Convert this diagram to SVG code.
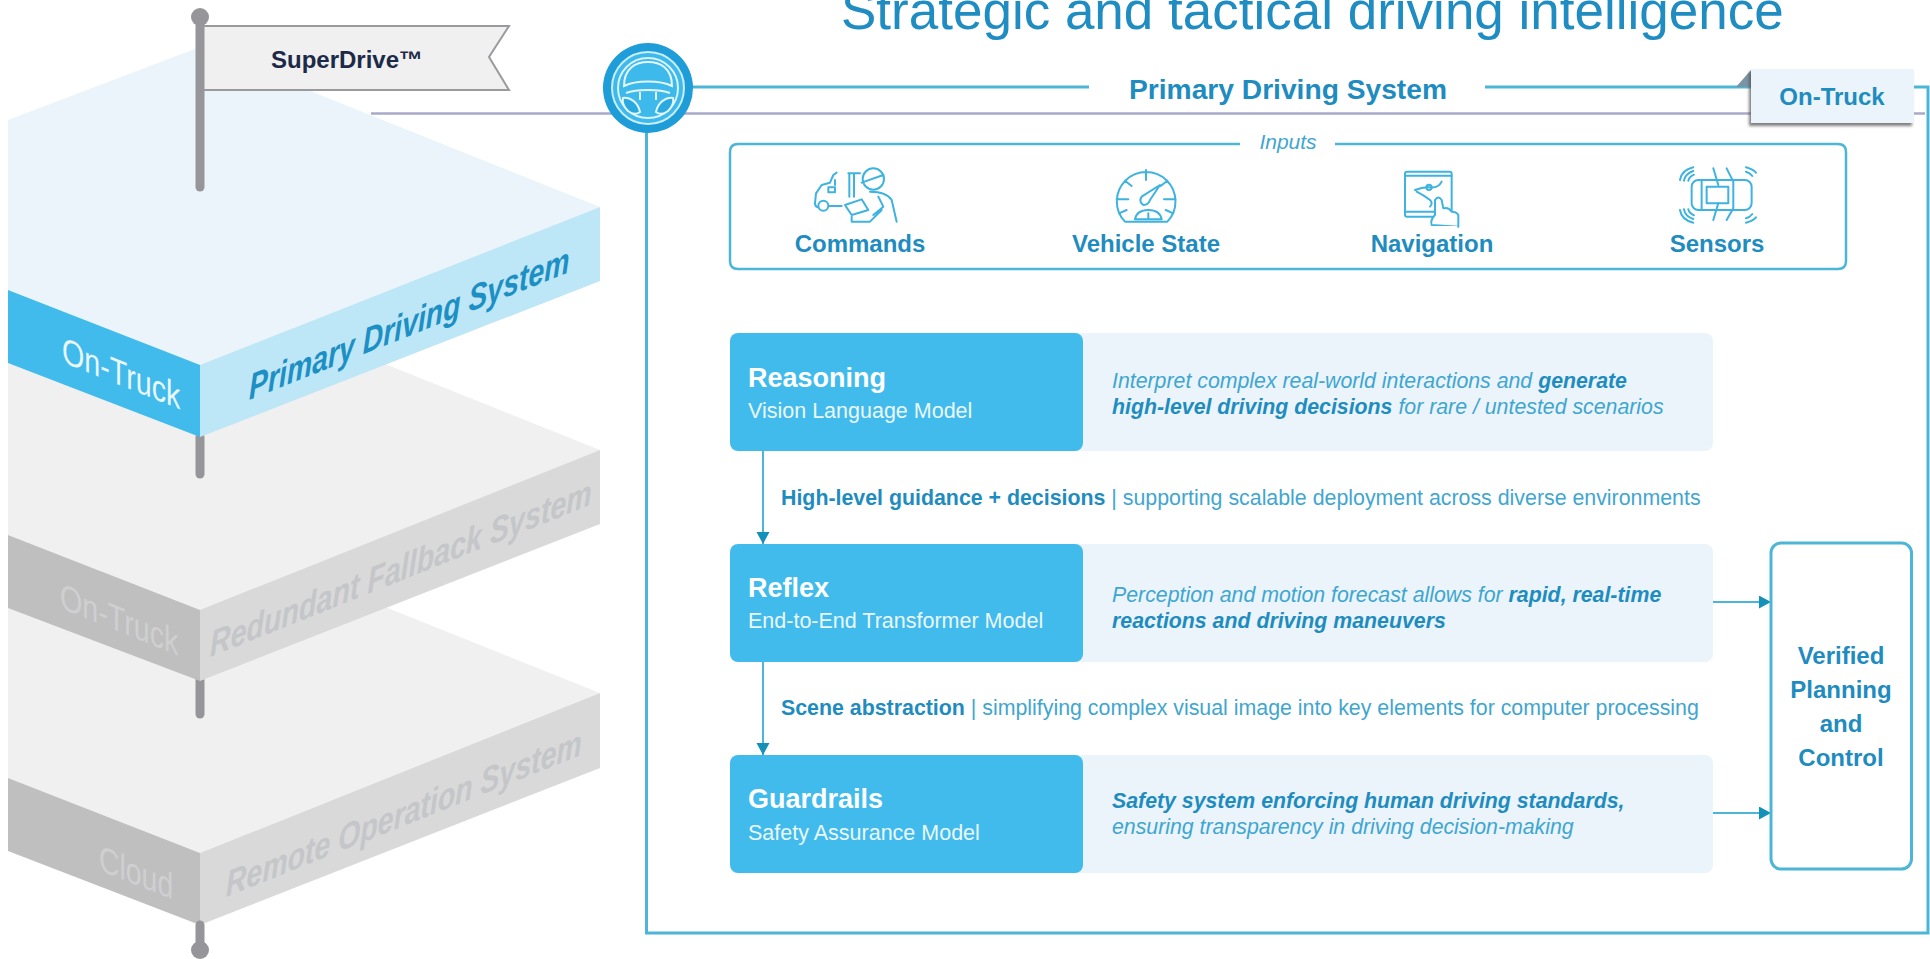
<svg xmlns="http://www.w3.org/2000/svg" width="1930" height="959" viewBox="0 0 1930 959">
<defs>
<marker id="ah" markerUnits="userSpaceOnUse" markerWidth="14" markerHeight="14" refX="12" refY="6.5" orient="auto"><path d="M0 0L12 6.5L0 13Z" fill="#1391b8"/></marker>
<filter id="sh" x="-10%" y="-20%" width="120%" height="150%"><feDropShadow dx="-2" dy="3" stdDeviation="1.6" flood-color="#555" flood-opacity=".75"/></filter>
<style>
text{font-family:"Liberation Sans",Arial,sans-serif}
.b{font-weight:700}.i{font-style:italic}
.ln{fill:none;stroke:#4db6d6;stroke-width:3}
.cn{fill:none;stroke:#4db6d6;stroke-width:2}
.pole{stroke:#95959a;stroke-width:9;stroke-linecap:round}
.ic{fill:none;stroke:#3eb3df;stroke-width:6;stroke-linecap:round;stroke-linejoin:round}
.lbl{font-size:24px;font-weight:700;fill:#1f8cbf;text-anchor:middle}
.hd{font-size:27px;font-weight:700;fill:#fff}
.sb{font-size:21.5px;fill:#eaf7fd}
.ds{font-size:21.3px;font-style:italic;fill:#3fa6d0}
.ds tspan.s{font-weight:700;fill:#1f8cbf}
.md{font-size:21.35px;fill:#3fa6d0}
.md tspan{font-weight:700;fill:#1f8cbf}
.blue{fill:#41bbec}.pale{fill:#eaf4fa}
.gs{font-size:28px;font-weight:700;font-style:italic;fill:#c5c6c9}
.gl{font-size:28px;fill:#cfcfd1}
.vp{font-size:24px;font-weight:700;fill:#1f8cbf;text-anchor:middle}
</style>
</defs>
<rect width="1930" height="959" fill="#fff"/>

<g id="layer-remote">
<polygon points="8,606 200,533 600,693 200,853 8,778" fill="#f0f0f0"/>
<polygon points="8,778 200,853 200,925 8,851" fill="#bfbfbf"/>
<polygon points="200,853 600,693 600,768 200,925" fill="#d9d9d9"/>
<text class="gl" transform="matrix(1.015 .406 0 1.3 99 870)">Cloud</text>
<text class="gs" transform="matrix(1.017 -.407 0 1.3 226 897)">Remote Operation System</text>
<line class="pole" x1="200" y1="925" x2="200" y2="945"/><circle cx="200" cy="950" r="9" fill="#95959a"/>
</g>
<g id="layer-fallback">
<line class="pole" x1="200" y1="680" x2="200" y2="714"/>
<polygon points="8,363 200,290 600,450 200,610 8,535" fill="#f0f0f0"/>
<polygon points="8,535 200,610 200,681 8,608" fill="#bfbfbf"/>
<polygon points="200,610 600,450 600,524 200,681" fill="#d9d9d9"/>
<text class="gl" transform="matrix(1.025 .41 0 1.3 60 608)">On-Truck</text>
<text class="gs" transform="matrix(1.023 -.409 0 1.3 210 657)">Redundant Fallback System</text>
</g>
<g id="layer-primary">
<line class="pole" x1="200" y1="437" x2="200" y2="474"/>
<polygon points="8,120 200,47 600,207 200,365 8,290" fill="#eaf4fa"/>
<polygon points="8,290 200,365 200,437 8,363" fill="#41bbec"/>
<polygon points="200,365 600,207 600,281 200,437" fill="#bde6f6"/>
<text transform="matrix(1.025 .41 0 1.3 62 362)" font-size="28" fill="#eaf7fd">On-Truck</text>
<text transform="matrix(1.015 -.406 0 1.3 249 400)" font-size="28" font-weight="700" font-style="italic" fill="#1c8fc4">Primary Driving System</text>
</g>
<g id="flag">
<polygon points="200,26 509,26 489,57 509,90 200,90" fill="#f0f0f0" stroke="#9a9a9e" stroke-width="2"/>
<line class="pole" x1="200" y1="20" x2="200" y2="187"/><circle cx="200" cy="17" r="9" fill="#95959a"/>
<text x="271" y="68" font-size="24" font-weight="700" fill="#1c2a48">SuperDrive™</text>
</g>

<text id="title" x="841" y="29" font-size="53" fill="#1f8cc2">Strategic and tactical driving intelligence</text>

<g id="panel">
<line x1="371" y1="113.500" x2="1925" y2="113.500" stroke="#a9a9c9" stroke-width="2.500"/>
<path class="ln" d="M648 87H1089M1485 87H1928V933H646.500V120"/>
<text x="1288" y="99" font-size="28.200" font-weight="700" fill="#1f8cbf" text-anchor="middle">Primary Driving System</text>
</g>
<g id="wheel">
<circle cx="648" cy="88" r="45" fill="#1e9dd8"/>
<circle cx="648" cy="88" r="36" fill="#3db9ec" stroke="#c9eefb" stroke-width="2"/>
<circle cx="648" cy="88" r="30" fill="#3db9ec" stroke="#d9f3fc" stroke-width="2"/>
<path d="M624 86C624 68 636 62 648 62C660 62 672 68 672 86C660 80 636 80 624 86Z" fill="#3db9ec" stroke="#e3f6fd" stroke-width="2"/>
<path d="M626 93C636 89 660 89 670 93M640 92V100M656 92V100" fill="none" stroke="#e3f6fd" stroke-width="2"/>
<path d="M623 98C630 97 638 102 640 112C636 115 632 114 628 111C624 107 622 102 623 98Z" fill="#2aa9e0" stroke="#e3f6fd" stroke-width="2"/>
<path d="M673 98C666 97 658 102 656 112C660 115 664 114 668 111C672 107 674 102 673 98Z" fill="#2aa9e0" stroke="#e3f6fd" stroke-width="2"/>
</g>
<g id="tag-on-truck">
<polygon points="1751,70 1736,87 1751,87" fill="#7a94a4"/>
<rect x="1751" y="69" width="163" height="54" fill="#eaf4fa" filter="url(#sh)"/>
<text x="1832" y="105" font-size="24" font-weight="700" fill="#1f8cbf" text-anchor="middle">On-Truck</text>
</g>

<g id="inputs">
<path d="M1240 144H738Q730 144 730 152V261Q730 269 738 269H1838Q1846 269 1846 261V152Q1846 144 1838 144H1335" fill="none" stroke="#4db6d6" stroke-width="2.500"/>
<text x="1288" y="149" font-size="21" font-style="italic" fill="#3fa6d0" text-anchor="middle">Inputs</text>
</g>
<g id="input-commands">
<g transform="translate(780 160) scale(.3333)">
<path class="ic" d="M170 38L160 45L150 68L125 75L108 100L105 130Q105 140 113 142M148 138H185M205 40H240M208 40V110M222 40V110M165 60V75"/>
<rect class="ic" x="145" y="82" width="20" height="15"/>
<circle class="ic" cx="130" cy="137" r="15"/>
<circle class="ic" cx="280" cy="57" r="32"/>
<path class="ic" d="M245 68L310 45M270 95Q320 95 335 120L350 185M295 110L310 140L280 165M215 170V185H270L305 150"/>
<path class="ic" d="M195 135L245 118L265 150L215 165Z"/>
</g>
<text class="lbl" x="860" y="252">Commands</text>
</g>
<g id="input-vehicle-state">
<g transform="translate(1080 160) scale(.3333)">
<path class="ic" d="M135 185A88 88 0 1 1 262 185ZM198 30V60M110 118H145M252 118H287M135 62L155 78M262 62L242 78M117 160L140 150M280 160L257 150M165 178Q170 150 205 150Q240 150 245 178ZM205 160V176"/>
<path class="ic" d="M240 75L185 110Q175 125 190 135Q205 135 210 120Z"/>
</g>
<text class="lbl" x="1146" y="252">Vehicle State</text>
</g>
<g id="input-navigation">
<g transform="translate(1380 160) scale(.3333)">
<rect class="ic" x="75" y="35" width="140" height="135" rx="6"/>
<path class="ic" d="M75 47H215M75 155H215M105 90Q130 80 150 82Q175 85 185 65M110 95Q130 105 150 120Q160 130 150 140"/>
<circle class="ic" cx="147" cy="82" r="8"/>
<path class="ic" style="fill:#fff" d="M155 195Q150 180 165 165V120Q175 105 185 120L190 145Q205 140 215 155Q230 155 235 165V200Z"/>
<path d="M158 202H232" stroke="#fff" stroke-width="8"/>
</g>
<text class="lbl" x="1432" y="252">Navigation</text>
</g>
<g id="input-sensors">
<g transform="translate(1380 160) scale(.3333)">
<rect class="ic" x="935" y="60" width="180" height="90" rx="20"/>
<rect class="ic" x="980" y="80" width="65" height="50"/>
<path class="ic" d="M965 62V148M1000 25L1015 75M1040 25L1060 65V145L1040 180M1000 180L1015 130M900 60Q905 30 940 22M912 62Q915 42 940 33M925 62Q928 50 942 44M900 150Q905 180 940 188M912 148Q915 168 940 177M925 148Q928 160 942 166M1098 22Q1120 28 1128 38M1098 35Q1110 38 1117 48M1098 188Q1120 182 1128 172M1098 175Q1110 172 1117 162"/>
</g>
<text class="lbl" x="1717" y="252">Sensors</text>
</g>

<g id="connectors">
<path class="cn" d="M763 451V544" marker-end="url(#ah)"/>
<path class="cn" d="M763 662V755" marker-end="url(#ah)"/>
<path class="cn" d="M1713 602H1771" marker-end="url(#ah)"/>
<path class="cn" d="M1713 813H1771" marker-end="url(#ah)"/>
</g>

<g id="reasoning">
<rect class="pale" x="1060" y="333" width="653" height="118" rx="8"/>
<rect class="blue" x="730" y="333" width="353" height="118" rx="8"/>
<text class="hd" x="748" y="387">Reasoning</text>
<text class="sb" x="748" y="418">Vision Language Model</text>
<text class="ds" x="1112" y="388">Interpret complex real-world interactions and <tspan class="s">generate</tspan></text>
<text class="ds" x="1112" y="414"><tspan class="s">high-level driving decisions</tspan> for rare / untested scenarios</text>
</g>
<text class="md" x="781" y="505"><tspan>High-level guidance + decisions</tspan> | supporting scalable deployment across diverse environments</text>
<g id="reflex">
<rect class="pale" x="1060" y="544" width="653" height="118" rx="8"/>
<rect class="blue" x="730" y="544" width="353" height="118" rx="8"/>
<text class="hd" x="748" y="597">Reflex</text>
<text class="sb" x="748" y="628">End-to-End Transformer Model</text>
<text class="ds" x="1112" y="602">Perception and motion forecast allows for <tspan class="s">rapid, real-time</tspan></text>
<text class="ds" x="1112" y="628"><tspan class="s">reactions and driving maneuvers</tspan></text>
</g>
<text class="md" x="781" y="715"><tspan>Scene abstraction</tspan> | simplifying complex visual image into key elements for computer processing</text>
<g id="guardrails">
<rect class="pale" x="1060" y="755" width="653" height="118" rx="8"/>
<rect class="blue" x="730" y="755" width="353" height="118" rx="8"/>
<text class="hd" x="748" y="808">Guardrails</text>
<text class="sb" x="748" y="840">Safety Assurance Model</text>
<text class="ds" x="1112" y="808"><tspan class="s">Safety system enforcing human driving standards,</tspan></text>
<text class="ds" x="1112" y="834">ensuring transparency in driving decision-making</text>
</g>
<g id="verified">
<rect x="1771" y="543" width="140.500" height="326" rx="10" fill="#fff" stroke="#4db6d6" stroke-width="3"/>
<text class="vp" x="1841" y="664">Verified</text>
<text class="vp" x="1841" y="698">Planning</text>
<text class="vp" x="1841" y="732">and</text>
<text class="vp" x="1841" y="766">Control</text>
</g>
</svg>
